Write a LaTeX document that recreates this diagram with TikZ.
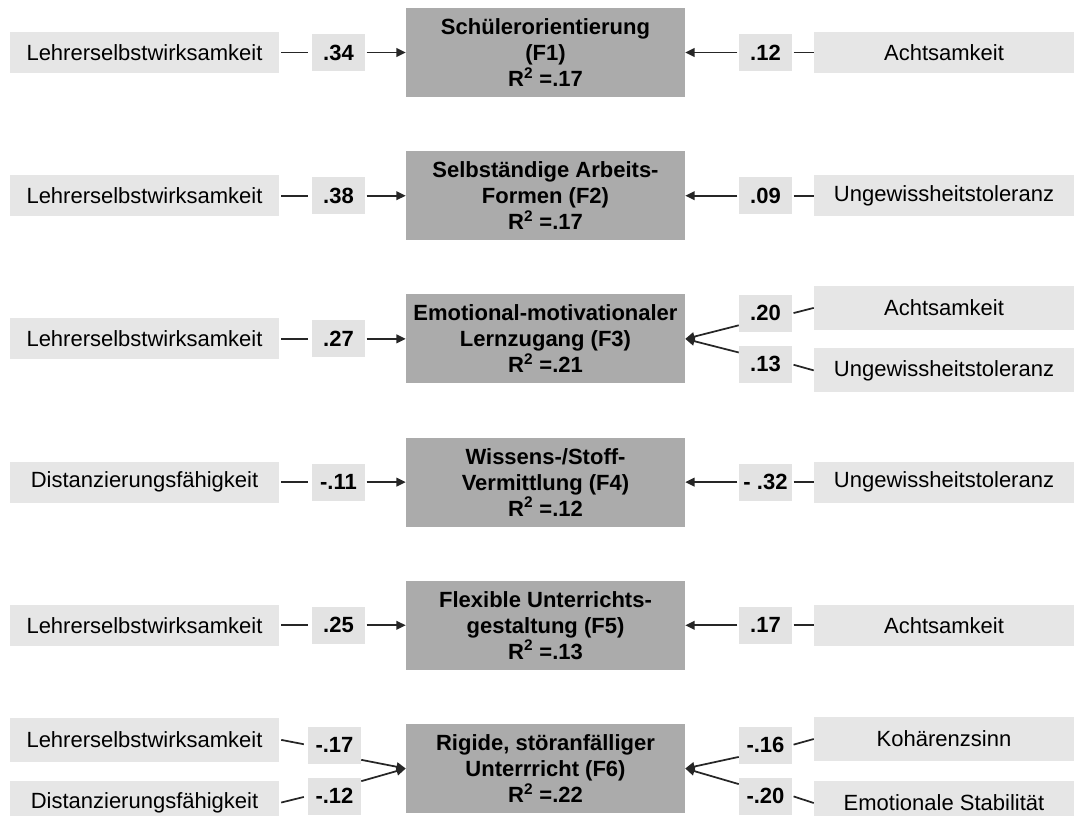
\documentclass[tikz,border=0pt]{standalone}
\usepackage{fontspec}
\setmainfont{Liberation Sans}
\usetikzlibrary{arrows.meta}
\definecolor{facgray}{HTML}{ABABAB}
\definecolor{predgray}{HTML}{E6E6E6}
\definecolor{coefgray}{HTML}{E3E3E3}
\definecolor{lineInk}{HTML}{262626}
\newcommand{\diagfont}{\fontsize{16.5}{19.5}\selectfont}
\tikzset{
  every picture/.append style={font=\diagfont},
  fac/.style   = {fill=facgray, minimum width=209.25pt, minimum height=66.75pt,
                  inner sep=0pt, align=center, font=\diagfont\bfseries},
  pred/.style  = {fill=predgray, minimum width=201.75pt, minimum height=30.75pt,
                  inner sep=0pt},
  predr/.style = {pred, minimum width=195pt},
  predt/.style = {pred, minimum height=33pt},
  predrt/.style= {predr, minimum height=33pt},
  coef/.style  = {fill=coefgray, minimum width=39.75pt, minimum height=27.75pt,
                  inner sep=0pt, font=\diagfont\bfseries},
  lnk/.style   = {draw=lineInk, line width=1.3pt},
  arr/.style   = {lnk, -{Triangle[length=7pt, width=6.5pt]}},
}

\begin{document}
\begin{tikzpicture}[x=0.75pt, y=-0.75pt]
  \useasboundingbox (0,0) rectangle (1074,816);
  % rows with one predictor on each side
  \foreach \n/\y/\ft/\rsq/\lp/\lc/\rc/\rp in {
      1/52.5/{Schülerorientierung\\(F1)}/.17/Lehrerselbstwirksamkeit/.34/.12/Achtsamkeit,
      2/195.7/{Selbständige Arbeits-\\Formen (F2)}/.17/Lehrerselbstwirksamkeit/.38/.09/Ungewissheitstoleranz,
      4/482.1/{Wissens-/Stoff-\\Vermittlung (F4)}/.12/Distanzierungsfähigkeit/-.11/- .32/Ungewissheitstoleranz,
      5/625.3/{Flexible Unterrichts-\\gestaltung (F5)}/.13/Lehrerselbstwirksamkeit/.25/.17/Achtsamkeit}{%
    \node[fac]   (f\n) at (545.5,\y) {\ft\\R\textsuperscript{2} =\rsq};
    \node[pred]  (l\n) at (144.5,\y) {\lp};
    \node[coef]  (a\n) at (338.5,\y) {\lc};
    \node[coef]  (b\n) at (765.5,\y) {\rc};
    \node[predr] (r\n) at (944,\y) {\rp};
    \draw[lnk, shorten <=1.5pt, shorten >=3pt] (l\n) -- (a\n);
    \draw[arr, shorten <=1pt] (a\n) -- (f\n);
    \draw[arr, shorten <=1pt] (b\n) -- (f\n);
    \draw[lnk, shorten <=1pt] (b\n) -- (r\n);}

  % F3: two predictors on the right
  \node[fac]    (f3)  at (545.5,338.9) {Emotional-motivationaler\\Lernzugang (F3)\\R\textsuperscript{2} =.21};
  \node[pred]   (l3)  at (144.5,338.9) {Lehrerselbstwirksamkeit};
  \node[coef]   (a3)  at (338.5,338.9) {.27};
  \node[coef]   (b3u) at (765.5,313.4) {.20};
  \node[coef]   (b3d) at (765.5,364.4) {.13};
  \node[predrt] (r3u) at (944,307.9) {Achtsamkeit};
  \node[predrt] (r3d) at (944,370.4) {Ungewissheitstoleranz};
  \draw[lnk, shorten <=1.5pt, shorten >=3pt] (l3) -- (a3);
  \draw[arr, shorten <=1pt] (a3) -- (f3);
  \draw[arr] (b3u.204) -- (f3.east);
  \draw[arr] (b3d.156) -- (f3.east);
  \draw[lnk, shorten <=1pt] (b3u.east) -- (r3u.west);
  \draw[lnk, shorten <=1pt] (b3d.east) -- (r3d.west);

  % F6: two predictors on each side
  \node[fac]    (f6)  at (545.5,768.5) {Rigide, störanfälliger\\Unterrricht (F6)\\R\textsuperscript{2} =.22};
  \node[predt]  (l6u) at (144.5,739.5) {Lehrerselbstwirksamkeit};
  \node[predt]  (l6d) at (144.5,803) {Distanzierungsfähigkeit};
  \node[coef]   (a6u) at (334.5,745) {-.17};
  \node[coef]   (a6d) at (334.5,796) {-.12};
  \node[coef]   (b6u) at (765.5,745) {-.16};
  \node[coef]   (b6d) at (765.5,796) {-.20};
  \node[predrt] (r6u) at (944,739) {Kohärenzsinn};
  \node[predrt] (r6d) at (944,803) {Emotionale Stabilität};
  \draw[lnk, shorten <=1.5pt, shorten >=3pt] (l6u.east) -- (a6u.west);
  \draw[lnk, shorten <=1.5pt, shorten >=3pt] (l6d.east) -- (a6d.west);
  \draw[arr] (a6u.-29) -- (f6.west);
  \draw[arr] (a6d.29) -- (f6.west);
  \draw[arr] (b6u.204) -- (f6.east);
  \draw[arr] (b6d.156) -- (f6.east);
  \draw[lnk, shorten <=1pt] (b6u.east) -- (r6u.west);
  \draw[lnk, shorten <=1pt] (b6d.east) -- (r6d.west);
\end{tikzpicture}
\end{document}
